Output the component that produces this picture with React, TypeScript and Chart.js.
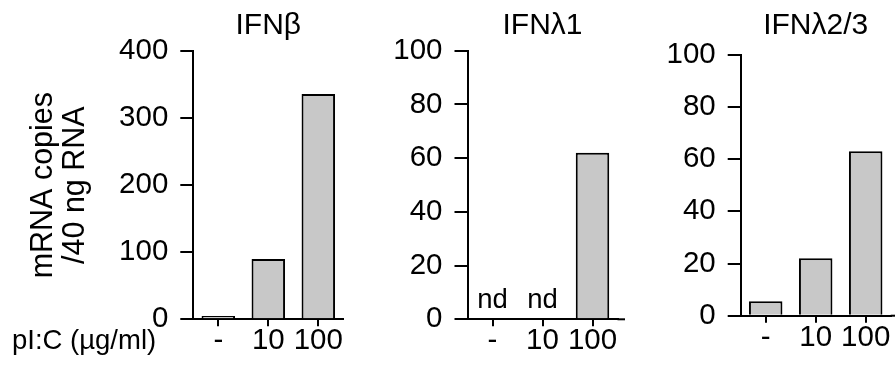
import React, { useEffect, useRef } from 'react';
import { Chart, registerables } from 'chart.js';

Chart.register(...registerables);

// ---------- data ----------
const categories = ['-', '10', '100'];
const ifnBetaValues: (number | null)[] = [5, 90, 336];
const ifnLambda1Values: (number | null)[] = [null, null, 62]; // null = not detected
const ifnLambda23Values: (number | null)[] = [5.5, 22, 63];
const panelTitles = ['IFNβ', 'IFNλ1', 'IFNλ2/3'];
const yAxisTitle = ['mRNA copies', '/40 ng RNA'];
const xAxisCaption = 'pI:C (µg/ml)';
const ndLabel = 'nd';
const betaAxisMax = 400;
const betaAxisStep = 100;
const lambdaAxisMax = 100;
const lambdaAxisStep = 20;

// ---------- style ----------
const FONT = '"Liberation Sans", Arial, Helvetica, sans-serif';
const BAR_FILL = '#c8c8c8';
const INK = '#000000';
const TICK_FONT = 29.5;
const TITLE_FONT = 30;
const NOTE_FONT = 27.5;
const X_TICK_LEN = 7;

type PanelSpec = {
  title: string;
  values: (number | null)[];
  yMax: number;
  yStep: number;
  canvasLeft: number;
  canvasWidth: number;
  yAxisWidth: number;
  padRight: number;
  padTop: number;
  xAxisHeight: number;
  showYTitle: boolean;
  showCaption: boolean;
  extendAxis: boolean;
};

const HEIGHT = 373;

const panels: PanelSpec[] = [
  {
    title: panelTitles[0], values: ifnBetaValues, yMax: betaAxisMax, yStep: betaAxisStep,
    canvasLeft: 0, canvasWidth: 355, yAxisWidth: 193.3, padRight: 11.7, padTop: 51,
    xAxisHeight: 53.7, showYTitle: true, showCaption: true, extendAxis: false,
  },
  {
    title: panelTitles[1], values: ifnLambda1Values, yMax: lambdaAxisMax, yStep: lambdaAxisStep,
    canvasLeft: 380, canvasWidth: 245, yAxisWidth: 87.5, padRight: 7.5, padTop: 50.8,
    xAxisHeight: 53.7, showYTitle: false, showCaption: false, extendAxis: true,
  },
  {
    title: panelTitles[2], values: ifnLambda23Values, yMax: lambdaAxisMax, yStep: lambdaAxisStep,
    canvasLeft: 650, canvasWidth: 245, yAxisWidth: 90.7, padRight: 4.3, padTop: 54.7,
    xAxisHeight: 57.3, showYTitle: false, showCaption: false, extendAxis: true,
  },
];

function Panel({ spec }: { spec: PanelSpec }) {
  const ref = useRef<HTMLCanvasElement | null>(null);

  useEffect(() => {
    const canvas = ref.current;
    if (!canvas) return;

    const annotate = {
      id: 'annotate',
      afterDraw(chart: any) {
        const { ctx, chartArea } = chart;
        const xs = chart.scales.x;
        const ys = chart.scales.y;
        ctx.save();
        ctx.fillStyle = INK;
        // panel title
        ctx.font = `${TITLE_FONT}px ${FONT}`;
        ctx.textAlign = 'center';
        ctx.textBaseline = 'middle';
        ctx.fillText(spec.title, (chartArea.left + chartArea.right) / 2, 26);
        // not-detected labels
        ctx.font = `${NOTE_FONT}px ${FONT}`;
        ctx.textBaseline = 'alphabetic';
        spec.values.forEach((v, i) => {
          if (v === null) {
            ctx.fillText(ndLabel, xs.getPixelForValue(i), ys.getPixelForValue(0) - 11);
          }
        });
        // x caption
        if (spec.showCaption) {
          ctx.font = `${NOTE_FONT}px ${FONT}`;
          ctx.textAlign = 'left';
          ctx.textBaseline = 'middle';
          ctx.fillText(xAxisCaption, 12, xs.top + X_TICK_LEN + TICK_FONT / 2);
        }
        // extend x axis line to canvas edge
        if (spec.extendAxis) {
          ctx.strokeStyle = INK;
          ctx.lineWidth = 2;
          ctx.beginPath();
          ctx.moveTo(chartArea.right, ys.getPixelForValue(0));
          ctx.lineTo(chart.width, ys.getPixelForValue(0));
          ctx.stroke();
        }
        ctx.restore();
      },
    };

    const chart = new Chart(canvas, {
      type: 'bar',
      data: {
        labels: categories,
        datasets: [
          {
            data: spec.values as any,
            backgroundColor: BAR_FILL,
            borderColor: INK,
            borderWidth: 2,
            borderSkipped: 'start',
            barPercentage: 0.67,
            categoryPercentage: 1,
          },
        ],
      },
      options: {
        animation: false,
        responsive: false,
        events: [],
        layout: { padding: { top: spec.padTop, right: spec.padRight, bottom: 0, left: 0 } },
        plugins: {
          legend: { display: false },
          tooltip: { enabled: false },
          title: { display: false },
        },
        scales: {
          x: {
            type: 'category',
            offset: true,
            grid: {
              display: true,
              drawOnChartArea: false,
              drawTicks: true,
              tickLength: X_TICK_LEN,
              tickWidth: 2,
              tickColor: INK,
              lineWidth: 2,
              color: INK,
              offset: false,
            },
            border: { display: true, color: INK, width: 2 },
            ticks: {
              color: INK,
              font: { size: TICK_FONT, family: FONT, lineHeight: 1.0 },
              padding: 0,
              maxRotation: 0,
              autoSkip: false,
            },
            afterFit: (s: any) => {
              s.height = spec.xAxisHeight;
            },
          },
          y: {
            min: 0,
            max: spec.yMax,
            ticks: {
              stepSize: spec.yStep,
              color: INK,
              font: { size: TICK_FONT, family: FONT, lineHeight: 1.0 },
              padding: 12,
            },
            grid: {
              drawOnChartArea: false,
              drawTicks: true,
              tickLength: 13,
              tickWidth: 2,
              tickColor: INK,
              lineWidth: 2,
              color: INK,
            },
            border: { display: true, color: INK, width: 2 },
            title: spec.showYTitle
              ? {
                  display: true,
                  text: yAxisTitle,
                  color: INK,
                  font: { size: 30.5, family: FONT, lineHeight: 1.02 },
                  padding: { top: 28.5, bottom: 0 },
                }
              : { display: false },
            afterFit: (s: any) => {
              s.width = spec.yAxisWidth;
            },
          },
        },
      } as any,
      plugins: [annotate],
    });

    return () => chart.destroy();
  }, [spec]);

  return (
    <canvas
      ref={ref}
      width={spec.canvasWidth}
      height={HEIGHT}
      style={{
        position: 'absolute',
        left: spec.canvasLeft,
        top: 0,
        width: spec.canvasWidth,
        height: HEIGHT,
      }}
    />
  );
}

export default function App() {
  return (
    <div
      style={{
        position: 'absolute',
        left: 0,
        top: 0,
        width: 895,
        height: HEIGHT,
        background: '#ffffff',
        overflow: 'hidden',
      }}
    >
      {panels.map((p) => (
        <Panel key={p.title} spec={p} />
      ))}
    </div>
  );
}
